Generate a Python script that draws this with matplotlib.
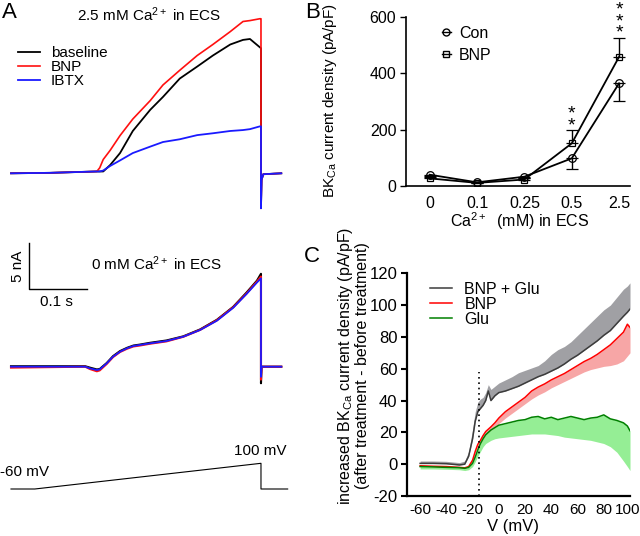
import matplotlib
matplotlib.use("Agg")
import matplotlib.pyplot as plt
from matplotlib.lines import Line2D
from matplotlib.transforms import ScaledTranslation

plt.rcParams['font.family'] = ['Liberation Sans', 'DejaVu Sans']
plt.rcParams['mathtext.fontset'] = 'custom'
plt.rcParams['mathtext.rm'] = 'Liberation Sans'
plt.rcParams['mathtext.it'] = 'Liberation Sans:italic'
plt.rcParams['mathtext.bf'] = 'Liberation Sans:bold'
plt.rcParams['axes.unicode_minus'] = False

# ---- panel A: current traces during the voltage ramp (time in ms, current in nA)
T_25 = [0, 67, 148, 153, 159, 171, 188, 210, 240, 262, 291, 321, 348, 378, 400, 412, 429, 431, 431, 432, 435, 466]
I_25_BASE = [0, 0.05, 0.2, 0.2, 0.2, 0.9, 2.2, 4.6, 6.9, 8.3, 10.3, 11.6, 12.8, 14.0, 14.5, 14.6, 13.7, 13.6, -3.8, -0.7, -0.1, 0]
I_25_BNP = [0, 0.05, 0.2, 0.6, 1.5, 2.5, 4.1, 5.9, 7.9, 9.6, 11.2, 12.8, 14.0, 15.4, 16.5, 16.6, 16.8, 16.8, -3.8, -0.7, -0.1, 0]
I_25_IBTX = [0, 0.05, 0.2, 0.2, 0.3, 0.8, 1.4, 2.2, 2.9, 3.4, 3.7, 4.15, 4.35, 4.6, 4.7, 4.8, 5.1, 5.1, -3.8, -0.7, -0.1, 0]

T_0 = [0, 128, 136, 148, 153, 165, 176, 188, 200, 211, 222, 240, 268, 297, 326, 355, 383, 406, 424, 431, 431, 432, 466]
I_0_BASE = [0.05, 0.05, -0.1, -0.3, -0.25, 0.4, 1.15, 1.7, 2.05, 2.3, 2.4, 2.6, 2.85, 3.3, 4.05, 5.1, 6.5, 8.05, 9.35, 10.1, -1.8, 0, 0]
I_0_BNP = [-0.1, 0, -0.25, -0.5, -0.4, 0.3, 1.05, 1.6, 1.95, 2.2, 2.3, 2.5, 2.75, 3.25, 4.0, 5.05, 6.45, 7.95, 9.25, 9.8, -1.4, 0, 0]
I_0_IBTX = [0, 0, -0.18, -0.36, -0.29, 0.36, 1.09, 1.63, 2.0, 2.25, 2.36, 2.54, 2.79, 3.26, 3.99, 5.0, 6.4, 7.9, 9.15, 9.6, -1.1, 0, 0]

T_CMD = [0, 41, 431, 431, 477]
V_CMD = [-60, -60, 100, -60, -60]

# ---- panel B: BKCa current density vs extracellular Ca2+
CA_LABELS = ['0', '0.1', '0.25', '0.5', '2.5']
CON_MEAN = [40, 13, 33, 98, 364]
CON_ERR = [4, 3, 4, 36, 62]
BNP_MEAN = [27, 11, 23, 151, 458]
BNP_ERR = [4, 3, 4, 47, 67]
STARS = ['', '', '', '**', '***']

# ---- panel C: increase of BKCa current density vs voltage
V_MV = [-60, -50, -40, -30, -26, -23, -20, -18, -16, -14, -12, -10, -8, -6, -3, 0, 5, 10, 15, 20,
        25, 30, 35, 40, 45, 50, 55, 60, 65, 70, 75, 80, 85, 90, 95, 98, 100]
BG_MEAN = [0.5, 0.5, 0.3, -0.5, 0, 5, 16, 27, 33, 35, 37, 40, 46, 40, 43, 45, 46, 47.5, 49, 51,
           53, 55, 56.5, 58.5, 60.5, 63, 66, 68.5, 71.5, 74.5, 77.5, 81, 84, 88.5, 93, 95.5, 97.5]
BG_UPPER = [2, 2, 1.8, 1, 2, 8, 22, 33, 39, 41, 42, 45, 50, 47, 49, 51, 53, 55, 57.5, 59,
            60.5, 62, 65, 69, 72, 74, 77, 81, 85, 89, 93, 97, 100, 105, 110, 112, 114]
BNP_C_MEAN = [-1, -1.3, -1.5, -2, -2.3, -1.5, 2.5, 8, 12.5, 15, 18, 20.5, 22, 23.5, 26, 29, 33, 36, 39, 42,
              46, 48.5, 50.5, 53, 55, 57, 59.5, 62, 64.5, 66.5, 69, 72, 75, 79, 83, 88, 86]
BNP_C_LOWER = [-1.5, -1.8, -2, -2.5, -2.8, -2, 1.5, 7, 10.5, 12.5, 15, 17.5, 19, 20.5, 23, 25.5, 29, 32, 35, 38,
               41, 43.5, 45.5, 48, 50, 52, 54, 56, 58, 59.5, 60.5, 61.5, 62, 63, 65, 68, 70]
GLU_MEAN = [-1.5, -1.7, -2, -2.2, -2.6, -2, 0.5, 4.5, 9, 13, 16, 18.5, 20, 21.5, 23, 24.5, 25.5, 26.5, 27.5, 28,
            29.5, 30, 28.5, 29.5, 28, 29, 30, 29, 28, 29, 29.5, 31, 28.5, 27.5, 26, 24, 21]
GLU_LOWER = [-3, -3, -3.2, -3.5, -4, -3.5, -1.5, 1.5, 5, 8, 11, 13, 14, 15, 16, 16.5, 17, 17.5, 18, 18.5,
             19, 19, 19, 18.5, 18, 17, 16.5, 16, 15.5, 15, 14, 13, 11, 7.5, 2, -1.5, -4]

W, H = 640, 536
fig = plt.figure(figsize=(W / 100, H / 100), dpi=100)


def px_ax(x0, y0, x1, y1):
    return fig.add_axes([x0 / W, 1 - y1 / H, (x1 - x0) / W, (y1 - y0) / H])


def ftext(x, y, s, **kw):
    kw.setdefault('ha', 'center')
    kw.setdefault('va', 'center')
    fig.text(x / W, 1 - y / H, s, **kw)


def trace_ax(y0, y1, zero_px, per_unit, zero_val=0):
    # axes whose data scale matches the figure pixels (0.58 px per ms)
    ax = px_ax(0, y0, 300, y1)
    ax.set_xlim(-11 / 0.58, 289 / 0.58)
    ax.set_ylim(zero_val - (y1 - zero_px) / per_unit, zero_val + (zero_px - y0) / per_unit)
    ax.axis('off')
    return ax


# ---------------- panel A
axA1 = trace_ax(0, 215, 173.3, 9.2)
axA1.plot(T_25, I_25_BASE, color='black', lw=1.3, label='baseline')
axA1.plot(T_25, I_25_BNP, color='#ff1010', lw=1.2, label='BNP')
axA1.plot(T_25, I_25_IBTX, color='#1a1aff', lw=1.3, label='IBTX')
axA1.legend(loc='upper left', bbox_to_anchor=(0.04, 0.815), frameon=False, fontsize=11,
            handlelength=1.45, handletextpad=0.7, labelspacing=0.02, borderaxespad=0)

axA2 = trace_ax(230, 400, 366.7, 9.2)
axA2.plot(T_0, I_0_BASE, color='black', lw=1.5)
axA2.plot(T_0, I_0_BNP, color='#ff1010', lw=1.5)
axA2.plot(T_0, I_0_IBTX, color='#1a1aff', lw=1.3)
# scale bar: 5 nA, 0.1 s
axA2.plot([31.6, 31.6, 131.6], [13.41, 8.41, 8.41], color='black', lw=1)

axA3 = trace_ax(430, 510, 489, 0.1606, zero_val=-60)
axA3.plot(T_CMD, V_CMD, color='black', lw=0.8)

ftext(9, 12, 'A', fontsize=16)
ftext(149, 15, '2.5 mM Ca$^{2+}$ in ECS', fontsize=11)
ftext(157, 264, '0 mM Ca$^{2+}$ in ECS', fontsize=11)
ftext(18, 266, '5 nA', fontsize=11, rotation=90)
ftext(56, 302, '0.1 s', fontsize=11)
ftext(24, 472, '-60 mV', fontsize=11)
ftext(260, 451, '100 mV', fontsize=11)

# ---------------- panel B
axB = px_ax(406, 16.7, 630, 186)
xs = list(range(len(CA_LABELS)))
zeros = [0] * len(xs)
axB.errorbar(xs, CON_MEAN, yerr=[CON_ERR, zeros], fmt='-o', color='black', mfc='none', ms=5.5,
             mew=0.9, lw=1.3, elinewidth=1, capsize=4, capthick=1)
axB.errorbar(xs, BNP_MEAN, yerr=[zeros, BNP_ERR], fmt='-s', color='black', mfc='none', ms=5,
             mew=0.9, lw=1.3, elinewidth=1, capsize=4, capthick=1)
for x, m, e, s in zip(xs, BNP_MEAN, BNP_ERR, STARS):
    if s:
        axB.text(x, m + e - 14, '\n'.join(s), ha='center', va='bottom', fontsize=14,
                 linespacing=0.58, clip_on=False)
axB.set_xlim(-0.5, 4.23)
axB.set_ylim(0, 600)
axB.set_yticks([0, 200, 400, 600])
axB.set_xticks(xs)
axB.set_xticklabels(CA_LABELS)
axB.tick_params(axis='x', length=0, pad=7, labelsize=11.5)
axB.tick_params(axis='y', length=4, width=1, pad=3, labelsize=11.5)
for s in ['top', 'right']:
    axB.spines[s].set_visible(False)
for s in ['left', 'bottom']:
    axB.spines[s].set_linewidth(1.2)
hB = [Line2D([], [], color='black', marker='o', mfc='none', ms=5, lw=1),
      Line2D([], [], color='black', marker='s', mfc='none', ms=4.5, lw=1)]
axB.legend(hB, ['Con', 'BNP'], loc='upper left', bbox_to_anchor=(0.13, 0.985), frameon=False,
           fontsize=11.5, handlelength=0.6, handletextpad=0.5, labelspacing=0.45, borderaxespad=0)
ftext(313, 12, 'B', fontsize=16)
ftext(330, 101, 'BK$_{\\mathrm{Ca}}$ current density (pA/pF)', fontsize=11, rotation=90)
ftext(520, 221, 'Ca$^{2+}$  (mM) in ECS', fontsize=11.5)

# ---------------- panel C
axC = px_ax(407, 273.3, 630, 496)
axC.fill_between(V_MV, BG_MEAN, BG_UPPER, color='#a0a0a4', lw=0)
axC.fill_between(V_MV, BNP_C_LOWER, BNP_C_MEAN, color='#f7a6a6', lw=0)
axC.fill_between(V_MV, GLU_LOWER, GLU_MEAN, color='#95ee95', lw=0)
axC.plot(V_MV, BG_MEAN, color='#3c3c3c', lw=1.1, label='BNP + Glu')
axC.plot(V_MV, BNP_C_MEAN, color='#ff0000', lw=1.1, label='BNP')
axC.plot(V_MV, GLU_MEAN, color='#008000', lw=1.1, label='Glu')
axC.plot([-15, -15], [-20, 58], color='black', lw=1.2, ls=(0, (1, 2.2)))
axC.set_xlim(-70, 100)
axC.set_ylim(-20, 120)
axC.set_xticks(range(-60, 101, 20))
axC.set_yticks(range(-20, 121, 20))
axC.tick_params(axis='x', length=0, pad=5, labelsize=11)
axC.tick_params(axis='y', length=4, width=1.5, pad=3, labelsize=12)
# keep the last x label ("100") inside the canvas
last = axC.get_xticklabels()[-1]
last.set_transform(last.get_transform() + ScaledTranslation(-2.5 / 100, 0, fig.dpi_scale_trans))
for s in ['top', 'right']:
    axC.spines[s].set_visible(False)
for s in ['left', 'bottom']:
    axC.spines[s].set_linewidth(1.6)
axC.legend(loc='upper left', bbox_to_anchor=(0.075, 0.99), frameon=False, fontsize=11.5,
           handlelength=1.4, handletextpad=0.75, labelspacing=0.0, borderaxespad=0)
ftext(312, 256, 'C', fontsize=16)
ftext(353, 366, 'increased BK$_{\\mathrm{Ca}}$ current density (pA/pF)\n(after treatment - before treatment)',
      fontsize=11.5, rotation=90, linespacing=1.05)
ftext(513, 527, 'V (mV)', fontsize=12)

fig.savefig('out.png', dpi=100)
